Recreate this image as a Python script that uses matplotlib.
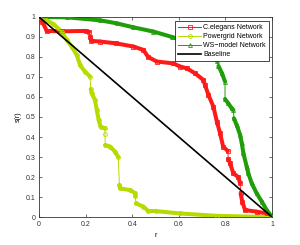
import numpy as np
import matplotlib
matplotlib.use("Agg")
import matplotlib.pyplot as plt
from matplotlib.collections import LineCollection
from matplotlib.ticker import FuncFormatter

plt.rcParams['font.family'] = ['Liberation Sans', 'DejaVu Sans']

# values (r, s(r))
celegans_r = [0, 0.015, 0.033, 0.1, 0.2, 0.215, 0.22, 0.225, 0.262, 0.33, 0.405, 0.448,
              0.468, 0.505, 0.576, 0.605, 0.634, 0.67, 0.705, 0.712, 0.727, 0.748, 0.763,
              0.777, 0.79, 0.81, 0.812, 0.82, 0.834, 0.855, 0.863, 0.865, 0.872, 0.884,
              0.934, 0.977, 1.0]
celegans_s = [1.0, 0.975, 0.93, 0.928, 0.93, 0.925, 0.90, 0.88, 0.877, 0.868, 0.852, 0.835,
              0.80, 0.777, 0.768, 0.752, 0.743, 0.718, 0.685, 0.66, 0.61, 0.552, 0.477,
              0.418, 0.352, 0.33, 0.29, 0.268, 0.218, 0.20, 0.168, 0.118, 0.077, 0.035,
              0.027, 0.018, 0.0]

powergrid_r = [0, 0.03, 0.061, 0.097, 0.119, 0.14, 0.162, 0.176, 0.197, 0.219, 0.222,
               0.226, 0.24, 0.248, 0.256, 0.264, 0.283, 0.283, 0.284, 0.305, 0.326, 0.34,
               0.345, 0.348, 0.39, 0.412, 0.413, 0.416, 0.448, 0.469, 0.5, 0.605, 0.763, 1.0]
powergrid_s = [1.0, 0.985, 0.965, 0.927, 0.885, 0.852, 0.81, 0.76, 0.727, 0.702, 0.64,
               0.618, 0.585, 0.535, 0.485, 0.452, 0.443, 0.415, 0.36, 0.352, 0.327, 0.30,
               0.16, 0.143, 0.135, 0.12, 0.103, 0.068, 0.052, 0.03, 0.03, 0.018, 0.006, 0.0]

ws_r = [0, 0.119, 0.262, 0.333, 0.405, 0.49, 0.57, 0.65, 0.72, 0.765, 0.77, 0.785, 0.798,
        0.798, 0.812, 0.827, 0.834, 0.836, 0.848, 0.863, 0.87, 0.877, 0.891, 0.898, 0.913,
        0.934, 0.956, 0.977, 1.0]
ws_s = [1.0, 0.998, 0.983, 0.968, 0.948, 0.927, 0.90, 0.87, 0.82, 0.78, 0.755, 0.718, 0.677,
        0.59, 0.568, 0.543, 0.535, 0.493, 0.46, 0.41, 0.368, 0.318, 0.252, 0.218, 0.168,
        0.118, 0.077, 0.035, 0.0]

baseline_r = [0, 1]
baseline_s = [1, 0]

series = [
    ("C.elegans Network", celegans_r, celegans_s, "#ff1a1a", "s"),
    ("Powergrid Network", powergrid_r, powergrid_s, "#b5dc00", "o"),
    ("WS\u2212model Network", ws_r, ws_s, "#1f9e0a", "^"),
]

FS = 5.0

fig = plt.figure(figsize=(3, 2.45), dpi=100)
ax = fig.add_axes([0.13, 0.114, 0.777, 0.817])

handles = []
for name, r, s, col, mk in series:
    r = np.array(r)
    s = np.array(s)
    # dense runs of points look like a thick band, near-vertical jumps stay thin
    pts = np.column_stack([r, s])
    segs = np.stack([pts[:-1], pts[1:]], axis=1)
    dr = np.abs(np.diff(r)) * 233
    ds = np.abs(np.diff(s)) * 200
    thick = ~((ds > 5) & (dr < 1.3))
    ax.add_collection(LineCollection(segs[thick], colors=col, linewidths=2.9,
                                     capstyle='round', zorder=2))
    h, = ax.plot(r, s, color=col, lw=0.7, marker=mk, ms=2.8, mfc='none',
                 mew=0.6, label=name, zorder=3)
    handles.append(h)

hb, = ax.plot(baseline_r, baseline_s, color='black', lw=1.2, label='Baseline', zorder=4)
handles.append(hb)

ax.set_xlim(0, 1)
ax.set_ylim(0, 1)
ax.set_xticks(np.arange(0, 1.01, 0.2))
ax.set_yticks(np.arange(0, 1.01, 0.1))
fmt = FuncFormatter(lambda v, p: ('%.1f' % v).rstrip('0').rstrip('.') if v != 0 else '0')
ax.xaxis.set_major_formatter(fmt)
ax.yaxis.set_major_formatter(fmt)
ax.tick_params(direction='in', length=2, width=0.5, labelsize=FS, top=True, right=True,
               colors='#333333', pad=2.5)
for sp in ax.spines.values():
    sp.set_linewidth(0.6)
    sp.set_color('#333333')

ax.set_xlabel('r', fontsize=FS, labelpad=3)
ax.set_ylabel('s(r)', fontsize=FS, labelpad=3)

leg = ax.legend(handles=handles, loc='upper right', bbox_to_anchor=(0.986, 0.98),
                borderaxespad=0, fontsize=FS, frameon=True, fancybox=False,
                edgecolor='black', handlelength=3.4, handletextpad=0.25, numpoints=1,
                labelspacing=0.3, borderpad=0.45, framealpha=1)
leg.get_frame().set_linewidth(0.5)
leg.set_zorder(10)

fig.savefig('out.png', dpi=100)
